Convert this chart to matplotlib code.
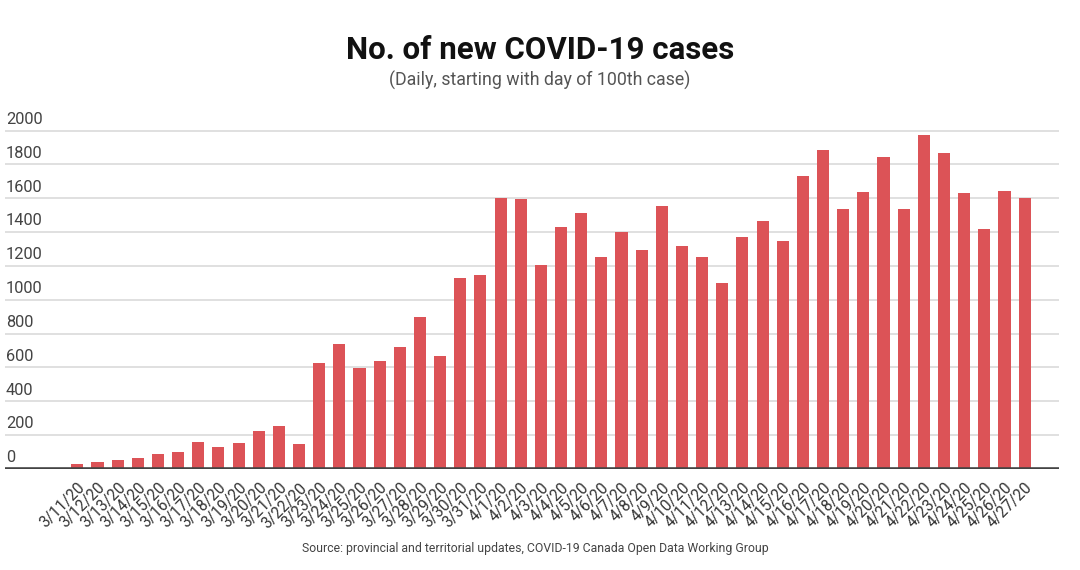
import matplotlib
matplotlib.use("Agg")
import matplotlib.pyplot as plt
import matplotlib.transforms as mtransforms

dates = (
    [f"3/{d}/20" for d in range(11, 32)]
    + [f"4/{d}/20" for d in range(1, 28)]
)
cases = [
    28, 43, 51, 65, 89, 102, 162, 132, 156, 223, 252, 148, 624, 737, 595,
    640, 721, 900, 670, 1131, 1147,
    1602, 1594, 1206, 1430, 1511, 1251, 1401, 1294, 1556, 1318, 1251, 1101,
    1369, 1468, 1347, 1734, 1883, 1535, 1637, 1846, 1535, 1972, 1870, 1629,
    1420, 1645, 1600,
]
yticks = [0, 200, 400, 600, 800, 1000, 1200, 1400, 1600, 1800, 2000]

title = "No. of new COVID-19 cases"
subtitle = "(Daily, starting with day of 100th case)"
source = "Source: provincial and territorial updates, COVID-19 Canada Open Data Working Group"

plt.rcParams["font.family"] = ["Roboto", "DejaVu Sans"]

fig = plt.figure(figsize=(10.8, 5.7), dpi=100)
ax = fig.add_axes([0.00463, 0.1772, 0.976, 0.6123])

x = list(range(len(dates)))
ax.bar(x, cases, width=0.6, color="#dc5357", zorder=2)

ax.set_xlim(-3.59, 48.71)
ax.set_ylim(0, 2063)

for v in yticks[1:]:
    ax.axhline(v, color="#dddddd", linewidth=1.3, zorder=1)
ax.axhline(0, color="#444444", linewidth=2.6, zorder=3)

# y labels sit just above their gridlines, flush left
trans = mtransforms.blended_transform_factory(ax.transAxes, ax.transData)
for v in yticks:
    ax.text(0.001, v + 22, str(v), transform=trans, ha="left", va="bottom",
            fontsize=11.8, color="#444444")

ax.set_yticks([])
ax.set_xticks(x)
ax.set_xticklabels(dates, rotation=45, ha="right", va="top",
                   rotation_mode="anchor", fontsize=11.2, color="#333333")
ax.tick_params(axis="x", length=0, pad=8)
for s in ax.spines.values():
    s.set_visible(False)

fig.text(0.5, 0.897, title, ha="center", va="baseline", fontsize=22.5,
         fontweight="bold", color="#111111")
fig.text(0.5, 0.859, subtitle, ha="center", va="center", fontsize=12.8,
         color="#555555")
fig.text(0.496, 0.037, source, ha="center", va="center", fontsize=8.8,
         color="#444444")

fig.savefig("out.png", dpi=100)
